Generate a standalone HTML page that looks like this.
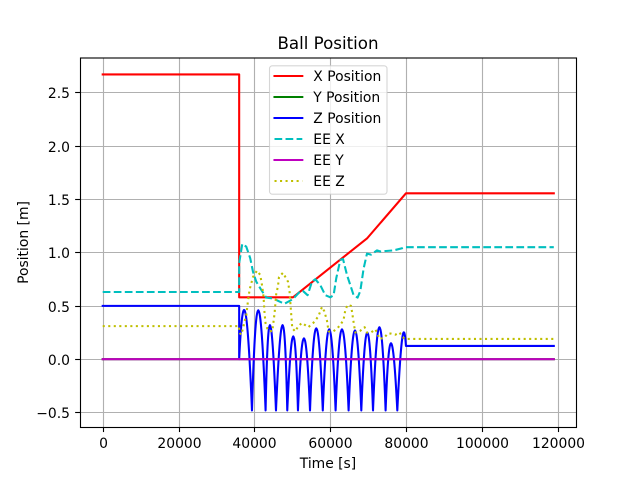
<!DOCTYPE html>
<html lang="en">
<head>
<meta charset="utf-8">
<title>Ball Position</title>
<style>
html,body{margin:0;padding:0;background:#fff;}
svg{display:block;}
text{font-family:"DejaVu Sans",sans-serif;fill:#000;}
</style>
</head>
<body>
<svg id="chart" xmlns="http://www.w3.org/2000/svg" width="640" height="480" viewBox="0 0 640 480">
  <rect x="0" y="0" width="640" height="480" fill="#fff"/>
  <text x="328" y="49" font-size="16.67" text-anchor="middle">Ball Position</text>
  <text x="328" y="468" font-size="13.89" text-anchor="middle">Time [s]</text>
  <text transform="translate(28,242.5) rotate(-90)" font-size="13.89" text-anchor="middle">Position [m]</text>
</svg>
<script>
// Tick labels and values
const xTicks = [0, 20000, 40000, 60000, 80000, 100000, 120000];
const xTickLabels = ["0", "20000", "40000", "60000", "80000", "100000", "120000"];
const yTicks = [-0.5, 0, 0.5, 1, 1.5, 2, 2.5];
const yTickLabels = ["\u22120.5", "0.0", "0.5", "1.0", "1.5", "2.0", "2.5"];

// X Position
const xPosTimes = [0, 36000, 36000, 50200, 69800, 80000, 119000];
const xPosValues = [2.67, 2.67, 0.58, 0.58, 1.135, 1.555, 1.555];

// Y Position
const yPosTimes = [0, 119000];
const yPosValues = [0, 0];

// Z Position: hold, then bounces (floor contact, peak, floor contact ...), then hold
const zHoldTimes = [0, 36000, 36000];
const zHoldValues = [0.5, 0.5, 0];
const zContactTimes = [36000, 39380, 42970, 45710, 48690, 51510, 54690, 58060, 61440, 64870, 68220, 71310, 74630, 77720, 80000];
const zContactValues = [0, -0.48, -0.48, -0.48, -0.48, -0.48, -0.48, -0.48, -0.48, -0.48, -0.48, -0.48, -0.48, -0.48, 0.124];
const zPeakTimes = [37600, 41040, 44120, 47450, 50270, 53090, 56340, 59750, 63120, 66550, 69800, 73000, 76050, 79000];
const zPeakValues = [0.44, 0.46, 0.32, 0.32, 0.215, 0.196, 0.29, 0.28, 0.28, 0.27, 0.25, 0.30, 0.15, 0.19];
const zTailTimes = [80000, 119000];
const zTailValues = [0.124, 0.124];

// EE X
const eeXTimes = [0, 36000, 36000, 36810, 37870, 38920, 39640, 40510, 41820, 43150, 44920, 46660, 47980, 49750, 50620, 51940, 52830, 54050, 55210, 56080, 57400, 58720, 60040, 60910, 61620, 62680, 63390, 64440, 66190, 67240, 67960, 68830, 69720, 70780, 72360, 73240, 76740, 78960, 79570, 119000];
const eeXValues = [0.63, 0.63, 0.9, 1.08, 1.055, 0.946, 0.82, 0.727, 0.65, 0.577, 0.57, 0.54, 0.52, 0.555, 0.58, 0.63, 0.64, 0.60, 0.727, 0.75, 0.695, 0.60, 0.58, 0.60, 0.76, 0.93, 0.94, 0.79, 0.60, 0.577, 0.64, 0.85, 0.99, 0.98, 1.02, 1.01, 1.02, 1.04, 1.05, 1.05];

// EE Y
const eeYTimes = [0, 119000];
const eeYValues = [0, 0];

// EE Z
const eeZTimes = [0, 36000, 36000, 36550, 37080, 37600, 37870, 38270, 38740, 39190, 39640, 40690, 41560, 42090, 42430, 42700, 42960, 43590, 44730, 45340, 45790, 46230, 46500, 47560, 48880, 49300, 49750, 50010, 50800, 51590, 52570, 54230, 55550, 56870, 57850, 58460, 59170, 59590, 60750, 61620, 62680, 63550, 64000, 64600, 65500, 65770, 66190, 66450, 66640, 67960, 69090, 69720, 70780, 71910, 72520, 72970, 74290, 75160, 76060, 77200, 78340, 78960, 79830, 119000];
const eeZValues = [0.31, 0.31, 0.25, 0.23, 0.30, 0.38, 0.41, 0.53, 0.65, 0.71, 0.77, 0.83, 0.79, 0.68, 0.585, 0.43, 0.337, 0.27, 0.26, 0.43, 0.62, 0.68, 0.77, 0.81, 0.727, 0.63, 0.41, 0.29, 0.26, 0.31, 0.34, 0.30, 0.34, 0.40, 0.49, 0.45, 0.36, 0.26, 0.26, 0.28, 0.32, 0.37, 0.46, 0.51, 0.50, 0.445, 0.346, 0.29, 0.25, 0.267, 0.30, 0.25, 0.25, 0.28, 0.24, 0.19, 0.20, 0.24, 0.24, 0.23, 0.25, 0.21, 0.19, 0.19];

// Legend labels
const legendLabels = ["X Position", "Y Position", "Z Position", "EE X", "EE Y", "EE Z"];

const svg = document.getElementById('chart');
const NS = 'http://www.w3.org/2000/svg';
const axL = 80, axR = 576, axT = 57.6, axB = 427.2;
const xMin = -5990, xMax = 124860, yMin = -0.6375, yMax = 2.8275;
function sx(t) { return axL + (t - xMin) / (xMax - xMin) * (axR - axL); }
function sy(v) { return axB - (v - yMin) / (yMax - yMin) * (axB - axT); }
function snapX(p) { return Math.round(p) + 0.5; }
function snapY(p) { return Math.round(p - 0.1) + 0.5; }
function make(tag, attrs, parent) {
  const el = document.createElementNS(NS, tag);
  for (const k in attrs) el.setAttribute(k, attrs[k]);
  (parent || svg).appendChild(el);
  return el;
}
function linePath(ts, vs) {
  return ts.map((t, i) => (i ? 'L' : 'M') + sx(t).toFixed(2) + ' ' + sy(vs[i]).toFixed(2)).join(' ');
}
function styleFor(color, dash) {
  const s = { fill: 'none', stroke: color, 'stroke-width': 2.083, 'stroke-linejoin': 'round' };
  if (dash) { s['stroke-dasharray'] = dash; s['stroke-linecap'] = 'butt'; }
  else { s['stroke-linecap'] = 'square'; }
  return s;
}

// Gridlines
xTicks.forEach(function (t) {
  const x = snapX(sx(t));
  const g = make('line', { x1: x, x2: x, y1: axT, y2: axB, stroke: '#b0b0b0', 'stroke-width': 1.11 });
  
  
});
yTicks.forEach(function (v) {
  const y = snapY(sy(v));
  const g = make('line', { x1: axL, x2: axR, y1: y, y2: y, stroke: '#b0b0b0', 'stroke-width': 1.11 });
  
  
});

// Series
const xLine = make('path', Object.assign({ d: linePath(xPosTimes, xPosValues) }, styleFor('#ff0000')));



const yLine = make('path', Object.assign({ d: linePath(yPosTimes, yPosValues) }, styleFor('#008000')));



function zPath() {
  let d = linePath(zHoldTimes, zHoldValues);
  for (let i = 0; i < zPeakTimes.length; i++) {
    const cx = 2 * zPeakTimes[i] - (zContactTimes[i] + zContactTimes[i + 1]) / 2;
    const cy = 2 * zPeakValues[i] - (zContactValues[i] + zContactValues[i + 1]) / 2;
    d += ' Q' + sx(cx).toFixed(2) + ' ' + sy(cy).toFixed(2) + ' ' + sx(zContactTimes[i + 1]).toFixed(2) + ' ' + sy(zContactValues[i + 1]).toFixed(2);
  }
  zTailTimes.forEach(function (t, i) {
    d += ' L' + sx(t).toFixed(2) + ' ' + sy(zTailValues[i]).toFixed(2);
  });
  return d;
}
const zLine = make('path', Object.assign({ d: zPath() }, styleFor('#0000ff')));



const eeXLine = make('path', Object.assign({ d: linePath(eeXTimes, eeXValues) }, styleFor('#00bfbf', '7.71 3.33')));



const eeYLine = make('path', Object.assign({ d: linePath(eeYTimes, eeYValues) }, styleFor('#bf00bf')));



const eeZLine = make('path', Object.assign({ d: linePath(eeZTimes, eeZValues) }, styleFor('#bfbf00', '2.08 3.44')));



// Spines
const frame = make('rect', { x: 80.5, y: 58, width: 496, height: 369.5, fill: 'none', stroke: '#000', 'stroke-width': 1.11 });



// Ticks and labels
xTicks.forEach(function (t, i) {
  const x = snapX(sx(t));
  const tick = make('line', { x1: x, x2: x, y1: axB, y2: axB + 4.86, stroke: '#000', 'stroke-width': 1.11 });
  
  
  const label = make('text', { x: x, y: 448, 'font-size': 13.89, 'text-anchor': 'middle' });
  label.textContent = xTickLabels[i];
  
  
});
yTicks.forEach(function (v, i) {
  const y = snapY(sy(v));
  const tick = make('line', { x1: axL - 4.86, x2: axL, y1: y, y2: y, stroke: '#000', 'stroke-width': 1.11 });
  
  
  const label = make('text', { x: 70, y: y + 5.3, 'font-size': 13.89, 'text-anchor': 'end' });
  label.textContent = yTickLabels[i];
  
  
});

// Legend
const legendBox = make('rect', { x: 269.5, y: 65.8, width: 117.5, height: 128.4, rx: 2.8, ry: 2.8, fill: '#fff', 'fill-opacity': 0.8, stroke: '#cccccc', 'stroke-opacity': 0.8, 'stroke-width': 1.11 });


const legendColors = ['#ff0000', '#008000', '#0000ff', '#00bfbf', '#bf00bf', '#bfbf00'];
const legendDashes = [null, null, null, '7.71 3.33', null, '2.08 3.44'];
legendLabels.forEach(function (name, i) {
  const rowY = 76 + i * 21;
  const sample = make('line', Object.assign({ x1: 274.5, x2: 302.3, y1: rowY, y2: rowY }, styleFor(legendColors[i], legendDashes[i])));
  
  
  const label = make('text', { x: 313.3, y: rowY + 4.8, 'font-size': 13.89 });
  label.textContent = name;
  
  
});
</script>
</body>
</html>
